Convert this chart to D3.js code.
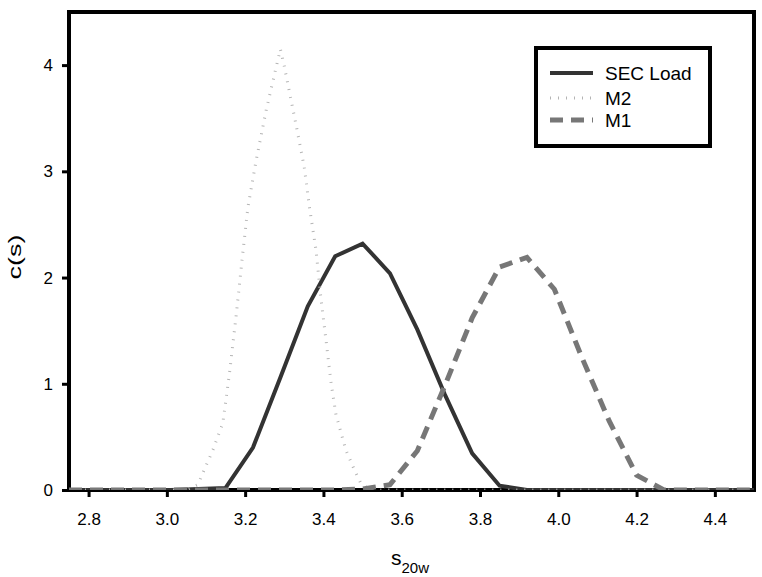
<!DOCTYPE html>
<html>
<head>
<script src="https://d3js.org/d3.v7.min.js"></script>
<style>
   body { margin: 0; background: white; }
   text { font-family: Arial, "Liberation Sans", sans-serif; fill: black; }
   .line_SEC { fill: none; stroke: #333333; stroke-width: 4; }
   .line_M2 { fill: none; stroke: #b4b4b4; stroke-width: 3; stroke-dasharray: 1 7; }
   .line_M1 { fill: none; stroke: #777777; stroke-width: 5; stroke-dasharray: 13 8; }
   .axis line { stroke: black; stroke-width: 3; }
   .axis text { font-size: 17px; }
</style>
</head>
<body>
<svg class="chart" width="762" height="577"></svg>
<script>
   // SEC Load (solid)
   var sec_s = [2.75, 2.80, 2.87, 2.94, 3.01, 3.08, 3.15, 3.22, 3.29, 3.36, 3.43, 3.50, 3.57, 3.64, 3.71, 3.78, 3.85, 3.92, 3.99, 4.06, 4.13, 4.20, 4.27, 4.34, 4.41, 4.50];
   var sec_c = [0, 0, 0, 0, 0, 0.01, 0.02, 0.40, 1.06, 1.73, 2.20, 2.32, 2.04, 1.51, 0.90, 0.345, 0.04, 0, 0, 0, 0, 0, 0, 0, 0, 0];

   // M2 (dotted)
   var m2_s = [2.75, 3.05, 3.079, 3.092, 3.118, 3.143, 3.160, 3.177, 3.194, 3.207, 3.228, 3.254, 3.290, 3.300, 3.313, 3.330, 3.351, 3.364, 3.381, 3.394, 3.407, 3.419, 3.432, 3.457, 3.479, 3.496, 3.52, 4.50];
   var m2_c = [0, 0, 0.05, 0.16, 0.38, 0.63, 1.10, 1.64, 2.23, 2.66, 3.10, 3.58, 4.15, 3.99, 3.75, 3.44, 3.04, 2.67, 2.26, 1.79, 1.40, 1.02, 0.71, 0.38, 0.19, 0.06, 0, 0];

   // M1 (dashed)
   var m1_s = [2.75, 2.80, 2.87, 2.94, 3.01, 3.08, 3.15, 3.22, 3.29, 3.36, 3.43, 3.50, 3.57, 3.64, 3.71, 3.78, 3.85, 3.92, 3.99, 4.06, 4.13, 4.20, 4.27, 4.34, 4.41, 4.50];
   var m1_c = [0, 0, 0, 0, 0, 0, 0, 0, 0, 0, 0, 0.01, 0.05, 0.37, 0.98, 1.62, 2.10, 2.19, 1.89, 1.25, 0.65, 0.14, 0, 0, 0, 0];

   var x_ticks = [2.8, 3.0, 3.2, 3.4, 3.6, 3.8, 4.0, 4.2, 4.4];
   var y_ticks = [0, 1, 2, 3, 4];
   var legend_names = ["SEC Load", "M2", "M1"];
   var legend_class = ["line_SEC", "line_M2", "line_M1"];

   var margin = {top: 12, right: 8, bottom: 87, left: 69};
   var width = 762 - margin.left - margin.right;
   var height = 577 - margin.top - margin.bottom;

   var x = d3.scaleLinear().domain([2.75, 4.5]).range([margin.left, margin.left + width]);
   var y = d3.scaleLinear().domain([0, 4.5]).range([margin.top + height, margin.top]);

   function pts(s, c) {
      return s.map(function(d, i) { return {s: d, c: c[i]}; });
   }

   var line = d3.line()
      .x(function(d) { return x(d.s); })
      .y(function(d) { return y(d.c); });

   var svg = d3.select(".chart");

   svg.append("clipPath").attr("id", "plotclip")
      .append("rect")
      .attr("x", margin.left).attr("y", margin.top)
      .attr("width", width).attr("height", height);

   // axes
   svg.append("g")
      .attr("class", "axis")
      .attr("transform", "translate(0," + (margin.top + height) + ")")
      .call(d3.axisBottom(x).tickValues(x_ticks).tickSize(7).tickPadding(16).tickFormat(d3.format(".1f")))
      .call(function(g) { g.select(".domain").remove(); });

   svg.append("g")
      .attr("class", "axis")
      .attr("transform", "translate(" + margin.left + ",0)")
      .call(d3.axisLeft(y).tickValues(y_ticks).tickSize(7).tickPadding(9).tickFormat(d3.format("d")))
      .call(function(g) { g.select(".domain").remove(); });

   // frame
   svg.append("rect")
      .attr("x", margin.left).attr("y", margin.top)
      .attr("width", width).attr("height", height)
      .style("fill", "none").style("stroke", "black").style("stroke-width", 4);

   var plot = svg.append("g").attr("clip-path", "url(#plotclip)");
   plot.append("path").datum(pts(sec_s, sec_c)).attr("class", "line_SEC").attr("d", line);
   plot.append("path").datum(pts(m2_s, m2_c)).attr("class", "line_M2").attr("d", line);
   plot.append("path").datum(pts(m1_s, m1_c)).attr("class", "line_M1").attr("d", line);

   // legend
   var lg = svg.append("g").attr("transform", "translate(536,48)");
   lg.append("rect")
      .attr("width", 174).attr("height", 98)
      .style("fill", "white").style("stroke", "black").style("stroke-width", 4);
   var rows = [25, 50, 72];
   legend_names.forEach(function(n, i) {
      lg.append("line")
         .attr("x1", 14).attr("x2", 57)
         .attr("y1", rows[i]).attr("y2", rows[i])
         .attr("class", legend_class[i]);
      lg.append("text")
         .attr("x", 69).attr("y", rows[i] + 7)
         .style("font-size", "19px")
         .text(n);
   });

   // axis titles
   svg.append("text")
      .attr("transform", "translate(21,257) rotate(-90) scale(1.5,1)")
      .attr("text-anchor", "middle")
      .style("font-size", "18px")
      .text("c(s)");

   var xt = svg.append("text")
      .attr("x", 391).attr("y", 565)
      .style("font-size", "21px")
      .text("s");
   xt.append("tspan")
      .attr("dy", 8)
      .style("font-size", "15px")
      .text("20w");
</script>
</body>
</html>
